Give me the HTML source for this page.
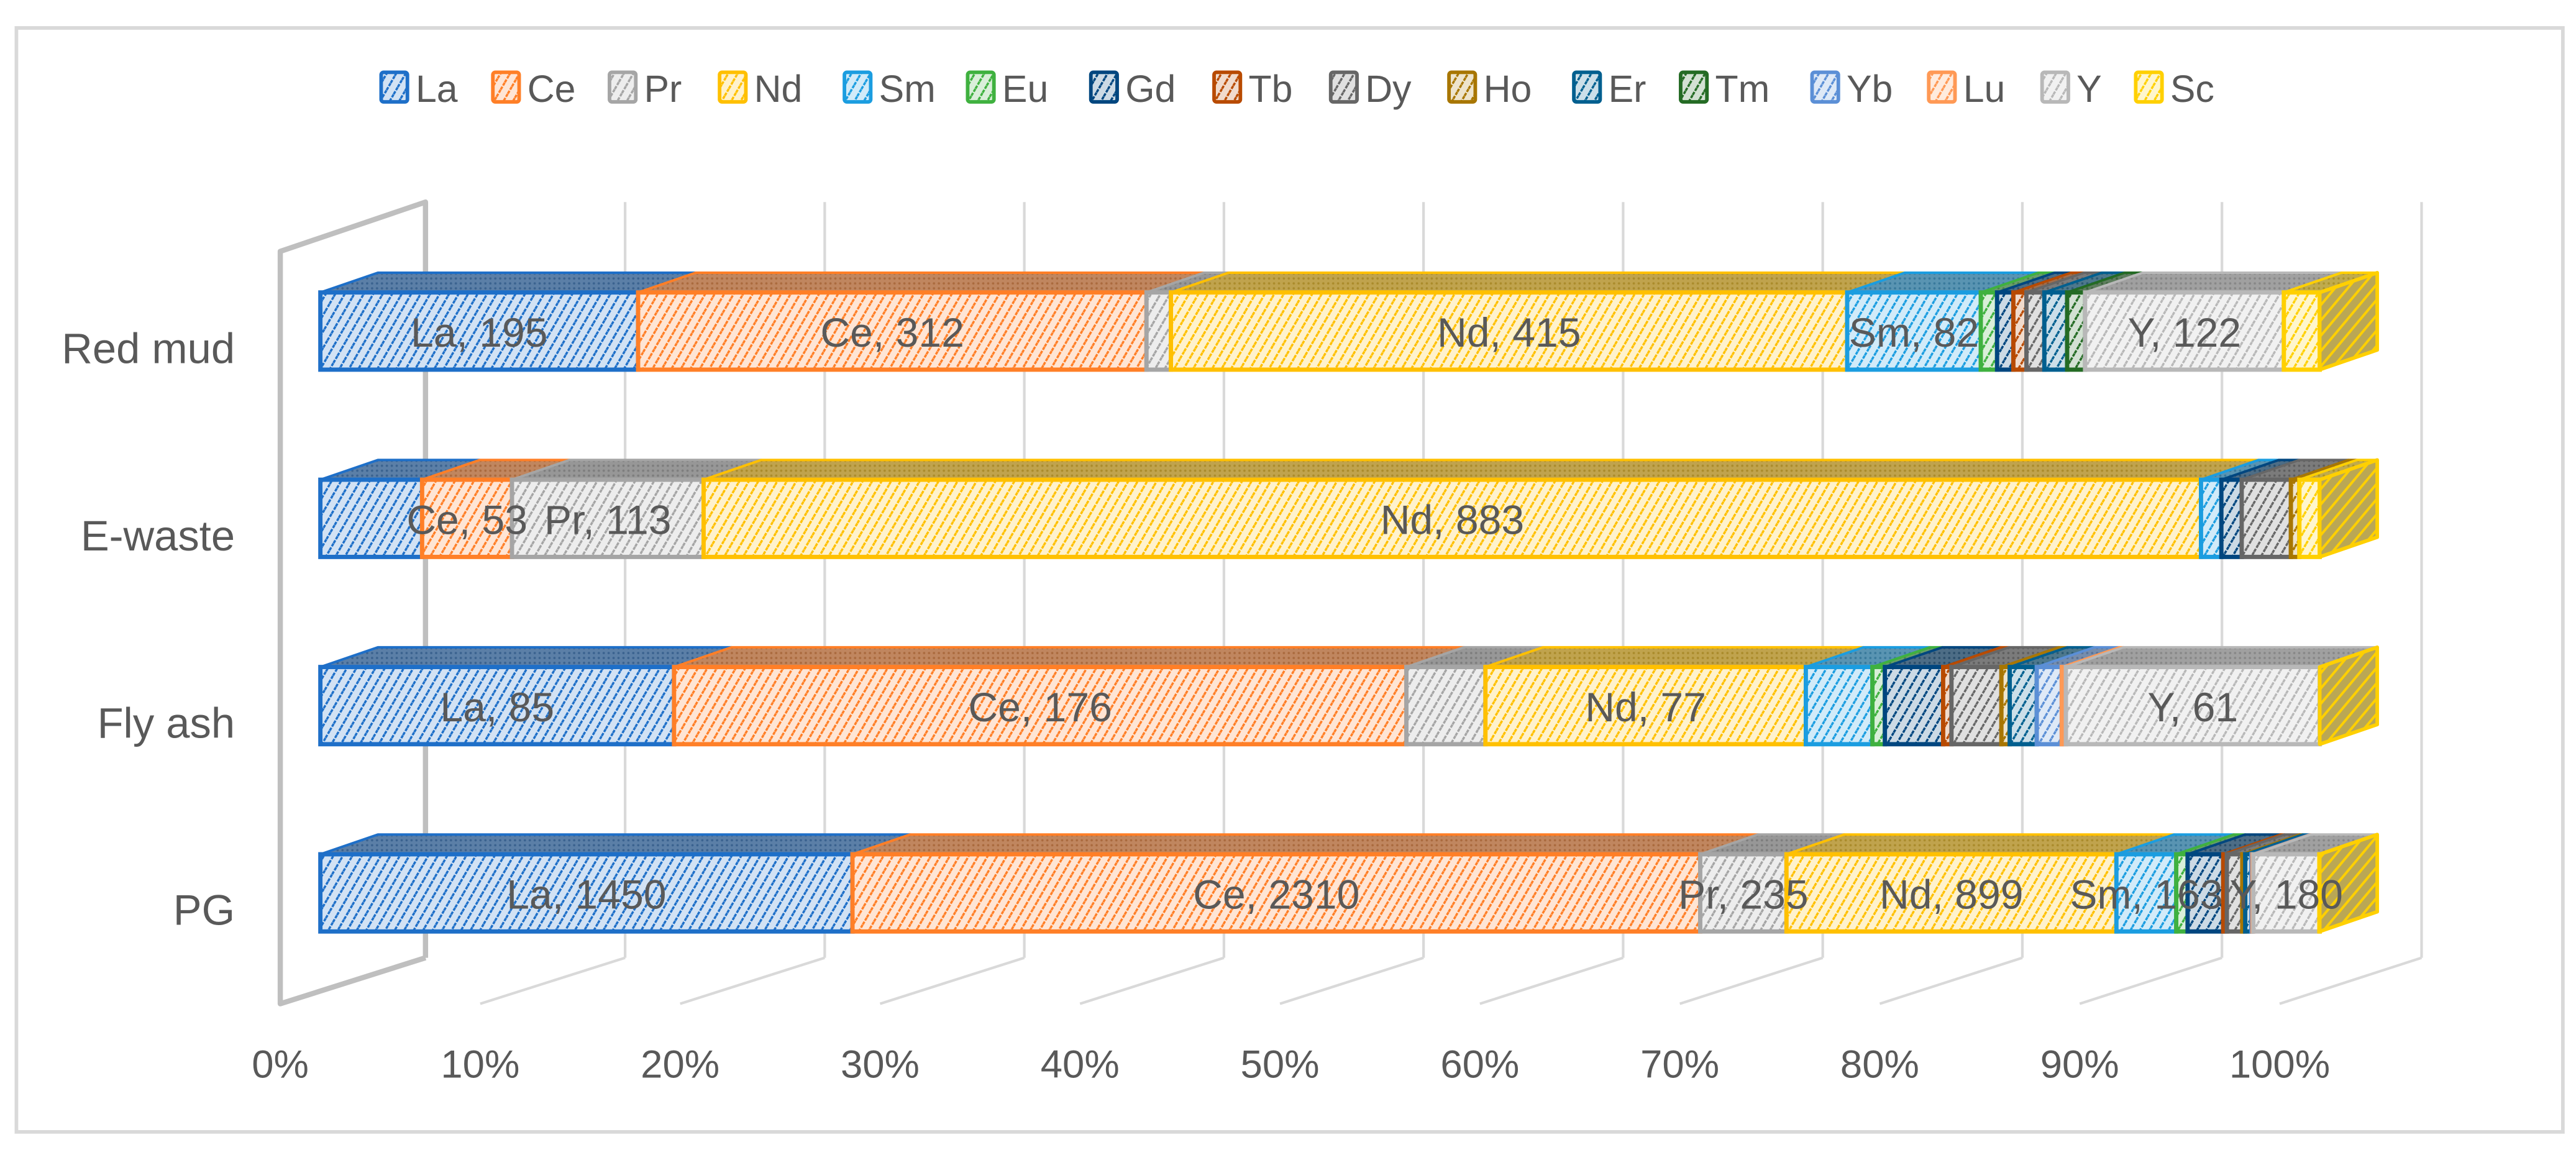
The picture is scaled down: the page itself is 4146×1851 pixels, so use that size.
<!DOCTYPE html>
<html><head><meta charset="utf-8">
<style>
html,body{margin:0;padding:0;background:#fff;}
svg{display:block;font-family:"Liberation Sans",sans-serif;}
</style></head>
<body>
<svg id="chart" width="4146" height="1851" viewBox="0 0 1568 700" xmlns="http://www.w3.org/2000/svg">
<defs id="defs"></defs>
<rect x="10" y="17" width="1550" height="672" fill="#fff" stroke="#d9d9d9" stroke-width="2.2"/>
<g id="walls"></g>
<g id="legend"></g>
<g id="bars"></g>
<g id="axis"></g>
</svg>
<script>
const elements = ["La","Ce","Pr","Nd","Sm","Eu","Gd","Tb","Dy","Ho","Er","Tm","Yb","Lu","Y","Sc"];
const colors = ["#1e6fc8","#ff7f27","#a5a5a5","#ffc000","#1b9de0","#3fb13f","#00467f","#b84a00","#666666","#a87600","#005f8f","#246b24","#5b8fd6","#ff9955","#b8b8b8","#ffd000"];
const categories = ["Red mud","E-waste","Fly ash","PG"];
const redMud = [195,312,15,415,82,10,10,8,11,0,14,11,0,0,122,22];
const eWaste = [60,53,113,883,12,0,12,0,29,5,0,0,0,0,0,12];
const flyAsh = [85,176,19,77,16,3,14,2,12,2,6.5,0,6,1,61,0];
const pg = [1450,2310,235,899,163,31,97,10,42,8,17,0,3,2,180,1];
const series = [redMud,eWaste,flyAsh,pg];
const labelRedMud = ["La","Ce","Nd","Sm","Y"];
const labelEWaste = ["Ce","Pr","Nd"];
const labelFlyAsh = ["La","Ce","Nd","Y"];
const labelPG = ["La","Ce","Pr","Nd","Sm","Y"];
const labelSets = [labelRedMud,labelEWaste,labelFlyAsh,labelPG];
const tickLabels = ["0%","10%","20%","30%","40%","50%","60%","70%","80%","90%","100%"];

const NS="http://www.w3.org/2000/svg";
function mk(tag,attrs,parent){const e=document.createElementNS(NS,tag);for(const k in attrs)e.setAttribute(k,attrs[k]);if(parent)parent.appendChild(e);return e;}
function mix(c1,c2,t){const a=[1,3,5].map(i=>parseInt(c1.substr(i,2),16)),b=[1,3,5].map(i=>parseInt(c2.substr(i,2),16));return "rgb("+a.map((v,i)=>Math.round(v*(1-t)+b[i]*t)).join(",")+")";}

const X0=195, XW=1217;
function xFront(p){return X0+XW*p;}
const rowY0=178, rowStep=114, barH=47, dx=35, dy=12;
function yRow(i){return rowY0+rowStep*i;}

const defs=document.getElementById('defs');
colors.forEach((c,i)=>{
  const p=mk('pattern',{id:'f'+i,width:5,height:5,patternUnits:'userSpaceOnUse',patternTransform:'rotate(30)'},defs);
  mk('rect',{width:5,height:5,fill:mix(c,'#ffffff',0.8)},p);
  mk('line',{x1:1.2,y1:0,x2:1.2,y2:5,stroke:c,'stroke-width':1.3,'stroke-dasharray':'2 0.8'},p);
  const t=mk('pattern',{id:'t'+i,width:3,height:3,patternUnits:'userSpaceOnUse'},defs);
  mk('rect',{width:3,height:3,fill:mix(c,'#8c8c8c',0.55)},t);
  mk('circle',{cx:1.5,cy:1.5,r:0.7,fill:mix(c,'#555555',0.5)},t);
  const s=mk('pattern',{id:'s'+i,width:6,height:6,patternUnits:'userSpaceOnUse',patternTransform:'rotate(40)'},defs);
  mk('rect',{width:6,height:6,fill:mix(c,'#8c8c8c',0.6)},s);
  mk('line',{x1:1.5,y1:0,x2:1.5,y2:6,stroke:c,'stroke-width':1.5},s);
});

const walls=document.getElementById('walls');
const backTop=123, backBot=583, frontBot=611, backX0=259, backStep=121.5, frontX0=170.6, frontStep=121.7;
for(let i=0;i<=10;i++){
  const bx=backX0+backStep*i, fx=frontX0+frontStep*i;
  const g=mk('line',{x1:bx,y1:backTop,x2:bx,y2:backBot,stroke:'#d9d9d9','stroke-width':1.6},walls);
  
  
  const f=mk('line',{x1:bx,y1:backBot,x2:fx,y2:frontBot,stroke:'#d9d9d9','stroke-width':1.6},walls);
  
  
}
const lw=mk('polyline',{points:`${backX0},${backBot} ${backX0},${backTop} ${frontX0},${backTop+30} ${frontX0},${frontBot} ${backX0},${backBot}`,fill:'none',stroke:'#bfbfbf','stroke-width':3.2,'stroke-linejoin':'round'},walls);



const legend=document.getElementById('legend');
const legX=[232,300,371,438,514,589,664,739,810,882,958,1023,1103,1174,1243,1300];
elements.forEach((el,i)=>{
  const g=mk('g',{},legend);
  
  
  mk('rect',{x:legX[i],y:44,width:16,height:18,fill:'url(#f'+i+')',stroke:colors[i],'stroke-width':2.2,rx:1.5},g);
  const t=mk('text',{x:legX[i]+21,y:62,'font-size':23,fill:'#595959'},g);
  t.textContent=el;
});

const bars=document.getElementById('bars');
const sideIdx=15;
series.forEach((vals,r)=>{
  const total=vals.reduce((a,b)=>a+b,0);
  const y0=yRow(r);
  const g=mk('g',{},bars);
  
  
  let cum=0;
  const labels=[];
  vals.forEach((v,i)=>{
    if(v<=0){return;}
    const xa=xFront(cum/total), xb=xFront((cum+v)/total);
    cum+=v;
    const top=mk('polygon',{points:`${xa},${y0} ${xa+dx},${y0-dy} ${xb+dx},${y0-dy} ${xb},${y0}`,fill:'url(#t'+i+')',stroke:colors[i],'stroke-width':1.5,'stroke-linejoin':'round'},g);
    
    
    const fr=mk('rect',{x:xa,y:y0,width:xb-xa,height:barH,fill:'url(#f'+i+')',stroke:colors[i],'stroke-width':2.6},g);
    
    
    if(labelSets[r].indexOf(elements[i])>=0) labels.push([(xa+xb)/2,elements[i]+', '+v]);
  });
  const xe=xFront(1);
  const side=mk('polygon',{points:`${xe},${y0} ${xe+dx},${y0-dy} ${xe+dx},${y0+barH-dy} ${xe},${y0+barH}`,fill:'url(#s'+sideIdx+')',stroke:colors[sideIdx],'stroke-width':2.2,'stroke-linejoin':'round'},g);
  
  
  labels.forEach(l=>{
    const t=mk('text',{x:l[0],y:y0+33,'font-size':25,fill:'#595959','text-anchor':'middle'},g);
    
    
    t.textContent=l[1];
  });
});

const axis=document.getElementById('axis');
categories.forEach((c,r)=>{
  const t=mk('text',{x:143,y:yRow(r)+43,'font-size':26,fill:'#595959','text-anchor':'end'},axis);
  
  
  t.textContent=c;
});
tickLabels.forEach((l,i)=>{
  const t=mk('text',{x:frontX0+frontStep*i,y:656,'font-size':24,fill:'#595959','text-anchor':'middle'},axis);
  
  
  t.textContent=l;
});
</script>
</body></html>
